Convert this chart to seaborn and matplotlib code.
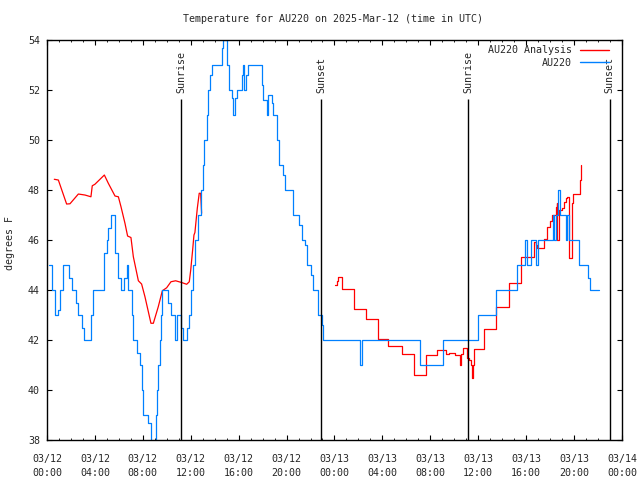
"""
Station temperature chart: AU220 observations vs analysis, 2025-03-12/13 (UTC)
"""
import numpy as np
import pandas as pd
import matplotlib
matplotlib.use('Agg')
import matplotlib.pyplot as plt
from matplotlib.ticker import MultipleLocator
import seaborn as sns

# hours since 03/12 00:00 UTC and temperature in degrees F
# observed (AU220), drawn as steps
obs_hours = [0.17, 0.44, 0.67, 0.95, 1.09, 1.36, 1.84, 2.11, 2.39, 2.62, 2.89, 3.12, 3.67,
             3.87, 4.79, 4.98, 5.12, 5.34, 5.68, 5.9, 6.18, 6.46, 6.68, 6.79, 7.12, 7.21,
             7.49, 7.76, 7.9, 7.99, 8.46, 8.68, 9.1, 9.2, 9.29, 9.4, 9.5, 9.63, 10.13,
             10.35, 10.68, 10.85, 11.05, 11.16, 11.33, 11.71, 11.85, 12.0, 12.21, 12.35,
             12.63, 12.83, 12.99, 13.13, 13.33, 13.47, 13.6, 13.8, 14.58, 14.72, 15.05,
             15.22, 15.42, 15.55, 15.69, 15.83, 16.25, 16.33, 16.44, 16.61, 16.8, 17.92,
             18.05, 18.2, 18.34, 18.47, 18.75, 18.9, 19.23, 19.4, 19.73, 19.87, 20.56,
             21.06, 21.26, 21.54, 21.68, 22.01, 22.23, 22.65, 22.93, 23.07, 26.1, 26.3,
             31.13, 33.05, 36.0, 37.45, 39.28, 39.9, 40.04, 40.37, 40.85, 40.96, 42.26,
             42.35, 42.49, 42.68, 42.82, 43.3, 43.43, 43.55, 44.43, 45.18, 45.33, 46.1]
obs_temps = [45, 44, 43, 43.2, 44, 45, 44.5, 44, 43.5, 43, 42.5, 42, 43,
             44, 45.5, 46, 46.5, 47, 45.5, 44.5, 44, 44.5, 45, 44, 43, 42,
             41.5, 41, 40, 39, 38.7, 37, 39, 40, 41, 42, 43, 44, 43.5,
             43, 42, 43, 43, 42.5, 42, 42.5, 43, 44, 45, 46,
             47, 48, 49, 50, 51, 52, 52.6, 53, 53.7, 54, 53,
             52, 51.7, 51, 51.7, 52, 52.6, 53, 52, 52.6, 53, 52.2,
             51.6, 51.6, 51, 51.8, 51.5, 51, 50, 49, 48.6, 48, 47,
             46.6, 46, 45.8, 45, 44.6, 44, 43, 42.6, 42, 41, 42,
             41, 42, 43, 44, 45, 46, 45, 46, 45, 46, 47,
             46, 47, 48, 47, 46, 47, 46, 45, 44.5, 44, 44]

# analysis, first day (smooth part)
ana1_hours = [0.61, 0.95, 1.64, 1.92, 2.62, 3.17, 3.67, 3.78, 4.0, 4.79, 5.12, 5.68, 5.96,
              6.18, 6.51, 6.73, 7.01, 7.21, 7.63, 7.9, 8.18, 8.68, 8.88, 9.29, 9.63,
              9.99, 10.35, 10.74, 11.24, 11.66, 11.88, 12.0, 12.16, 12.27, 12.35, 12.55,
              12.71, 12.83, 12.91]
ana1_temps = [48.43, 48.4, 47.44, 47.45, 47.84, 47.8, 47.73, 48.17, 48.23, 48.6, 48.27,
              47.76, 47.73, 47.33, 46.67, 46.16, 46.1, 45.33, 44.37, 44.24, 43.73, 42.67,
              42.67, 43.33, 43.97, 44.09, 44.33, 44.37, 44.3, 44.23, 44.33, 44.8, 45.6,
              46.2, 46.3, 47.27, 47.87, 47.87, 47.07]

# analysis, second day (stepped part)
ana2_hours = [24.01, 24.18, 24.32, 24.65, 25.6, 26.6, 27.65, 28.5, 29.6, 30.6, 31.65,
              32.6, 33.3, 33.6, 34.06, 34.47, 34.56, 34.75, 35.08, 35.25, 35.37, 35.45,
              35.53, 35.64, 36.52, 37.5, 38.6, 39.6, 40.65, 40.8, 40.87, 41.5, 41.71,
              41.99, 42.13, 42.49, 42.55, 42.6, 42.71, 42.96, 43.18, 43.32, 43.43, 43.6,
              43.8, 43.93, 44.49, 44.55, 44.56]
ana2_temps = [44.2, 44.35, 44.53, 44.03, 43.23, 42.83, 42.05, 41.76, 41.45, 40.6, 41.4,
              41.6, 41.45, 41.5, 41.4, 41.0, 41.45, 41.67, 41.3, 41.2, 41.0, 40.5,
              41.0, 41.65, 42.43, 43.31, 44.27, 45.31, 45.93, 45.8, 45.7, 46.03, 46.53,
              46.77, 47.0, 47.33, 47.5, 46.0, 47.2, 47.3, 47.53, 47.67, 47.73, 45.27,
              47.5, 47.84, 48.4, 49.0, 49.0]

sun_hours = [11.21, 22.9, 35.17, 46.97]
sun_labels = ['Sunrise', 'Sunset', 'Sunrise', 'Sunset']

tick_hours = [0, 4, 8, 12, 16, 20, 24, 28, 32, 36, 40, 44, 48]
tick_labels = ['03/12\n00:00', '03/12\n04:00', '03/12\n08:00', '03/12\n12:00',
               '03/12\n16:00', '03/12\n20:00', '03/13\n00:00', '03/13\n04:00',
               '03/13\n08:00', '03/13\n12:00', '03/13\n16:00', '03/13\n20:00',
               '03/14\n00:00']

RED = '#ff0000'
BLUE = '#0080ff'
FS = 7.2

sns.set_style('ticks')
plt.rcParams['font.family'] = ['DejaVu Sans Mono']
plt.rcParams['font.size'] = FS

obs = pd.DataFrame({'hour': obs_hours, 'temp': obs_temps})
ana1 = pd.DataFrame({'hour': ana1_hours, 'temp': ana1_temps})
ana2 = pd.DataFrame({'hour': ana2_hours, 'temp': ana2_temps})

fig = plt.figure(figsize=(6.4, 4.8), dpi=100)
ax = fig.add_axes([0.0734, 0.0833, 0.8984, 0.8333])

sns.lineplot(data=ana1, x='hour', y='temp', color=RED, lw=0.9, estimator=None,
             sort=False, legend=False, ax=ax)
sns.lineplot(data=ana2, x='hour', y='temp', color=RED, lw=0.9, estimator=None,
             sort=False, legend=False, drawstyle='steps-post', ax=ax)
sns.lineplot(data=obs, x='hour', y='temp', color=BLUE, lw=0.9, estimator=None,
             sort=False, legend=False, drawstyle='steps-post', ax=ax)

# sunrise / sunset markers
ax.vlines(sun_hours, 38, 51.64, color='black', lw=1)
for h, lab in zip(sun_hours, sun_labels):
    ax.text(h, 51.9, lab, rotation=90, ha='center', va='bottom', fontsize=FS)

ax.set_xlim(0, 48)
ax.set_ylim(38, 54)
ax.set_xticks(tick_hours)
ax.set_xticklabels(tick_labels, linespacing=1.5)
ax.xaxis.set_minor_locator(MultipleLocator(1))
ax.set_yticks(np.arange(38, 55, 2))
ax.tick_params(which='both', direction='in', top=True, right=True, color='black')
ax.tick_params(which='major', axis='x', length=3.4, pad=10)
ax.tick_params(which='minor', axis='x', length=1.7)
ax.tick_params(which='major', axis='y', length=3.6, pad=5)
for s in ax.spines.values():
    s.set_color('black')
    s.set_linewidth(1)
ax.set_xlabel('')
ax.set_ylabel('')

fig.text(10 / 640, 0.494, 'degrees F', rotation=90, ha='center', va='center', fontsize=FS)
fig.text(0.521, 1 - 19 / 480, 'Temperature for AU220 on 2025-Mar-12 (time in UTC)',
         ha='center', va='center', fontsize=FS)

handles = [plt.Line2D([], [], color=RED, lw=1), plt.Line2D([], [], color=BLUE, lw=1)]
ax.legend(handles, ['AU220 Analysis', 'AU220'], loc='upper right', frameon=False,
          markerfirst=False, handlelength=2.9, handletextpad=0.8, labelspacing=0.25,
          borderaxespad=0.3, bbox_to_anchor=(0.99, 1.005), fontsize=FS)

fig.savefig('out.png', dpi=100, facecolor='white')
